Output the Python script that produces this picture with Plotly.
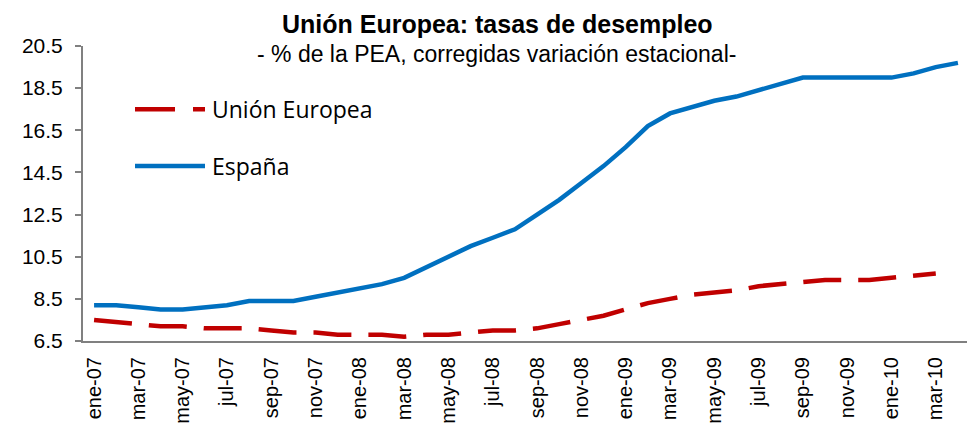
import plotly.graph_objects as go

meses = ["ene-07","feb-07","mar-07","abr-07","may-07","jun-07","jul-07","ago-07","sep-07","oct-07","nov-07","dic-07",
         "ene-08","feb-08","mar-08","abr-08","may-08","jun-08","jul-08","ago-08","sep-08","oct-08","nov-08","dic-08",
         "ene-09","feb-09","mar-09","abr-09","may-09","jun-09","jul-09","ago-09","sep-09","oct-09","nov-09","dic-09",
         "ene-10","feb-10","mar-10","abr-10"]
espana = [8.2,8.2,8.1,8.0,8.0,8.1,8.2,8.4,8.4,8.4,8.6,8.8,
          9.0,9.2,9.5,10.0,10.5,11.0,11.4,11.8,12.5,13.2,14.0,14.8,
          15.7,16.7,17.3,17.6,17.9,18.1,18.4,18.7,19.0,19.0,19.0,19.0,
          19.0,19.2,19.5,19.7]
union_europea = [7.5,7.4,7.3,7.2,7.2,7.1,7.1,7.1,7.0,6.9,6.9,6.8,
                 6.8,6.8,6.7,6.8,6.8,6.9,7.0,7.0,7.1,7.3,7.5,7.7,
                 8.0,8.3,8.5,8.7,8.8,8.9,9.1,9.2,9.3,9.4,9.4,9.4,
                 9.5,9.6,9.7,None]
etiquetas_x = meses[::2]
ticks_y = [6.5, 8.5, 10.5, 12.5, 14.5, 16.5, 18.5, 20.5]
nombres = ["Unión Europea", "España"]
titulo = "Unión Europea: tasas de desempleo"
subtitulo = "- % de la PEA, corregidas variación estacional-"

ROJO = "#C00000"
AZUL = "#0070C0"
DASH = "38px,17px"

fig = go.Figure()
fig.add_trace(go.Scatter(x=meses, y=union_europea, mode="lines", name=nombres[0],
                         line=dict(color=ROJO, width=4.5, dash=DASH), showlegend=False))
fig.add_trace(go.Scatter(x=meses, y=espana, mode="lines", name=nombres[1],
                         line=dict(color=AZUL, width=4.5), showlegend=False))

# manual legend (long line samples like the original)
leg = [(nombres[0], ROJO, "40px,18px", 0.786), (nombres[1], AZUL, "solid", 0.593)]
for nombre, col, dash, yy in leg:
    fig.add_shape(type="line", xref="paper", yref="paper", x0=0.0587, x1=0.1377, y0=yy, y1=yy,
                  line=dict(color=col, width=4.5, dash=dash))
    fig.add_annotation(text=nombre, xref="paper", yref="paper", x=0.1436, y=yy,
                       xanchor="left", yanchor="middle", showarrow=False,
                       font=dict(family="Open Sans", size=23, color="#000000"))

fig.add_annotation(text=subtitulo, xref="paper", yref="paper", x=0.467, y=0.974,
                   xanchor="center", yanchor="middle", showarrow=False,
                   font=dict(family="Liberation Sans, Arial", size=23, color="#000000"))

# page body has an 8px margin: figure is drawn at (8, 8)
fig.update_layout(
    width=967, height=415,
    margin=dict(l=75, r=6, t=38, b=82, autoexpand=False),
    paper_bgcolor="white", plot_bgcolor="white",
    title=dict(text="<b>" + titulo + "</b>", x=0.506, xanchor="center",
               yref="container", y=0.962, yanchor="middle",
               font=dict(family="Liberation Sans, Arial", size=25, color="#000000")),
    font=dict(family="Liberation Sans, Arial", color="#000000"),
)
fig.update_xaxes(type="category", range=[-0.5, len(meses) - 0.5], automargin=False,
                 tickmode="array", tickvals=etiquetas_x, ticktext=etiquetas_x,
                 tickangle=-90, ticks="", showgrid=False, zeroline=False,
                 showline=True, linecolor="#808080", linewidth=2,
                 tickfont=dict(size=20), ticklabelstandoff=6)
fig.update_yaxes(range=[6.5, 20.5], tickmode="array", tickvals=ticks_y, automargin=False,
                 ticktext=[f"{v:.1f}" for v in ticks_y],
                 ticks="outside", ticklen=6, tickwidth=2, tickcolor="#808080",
                 showgrid=False, zeroline=False,
                 showline=True, linecolor="#808080", linewidth=2,
                 tickfont=dict(size=21), ticklabelstandoff=8)

fig.write_html("out.html")
